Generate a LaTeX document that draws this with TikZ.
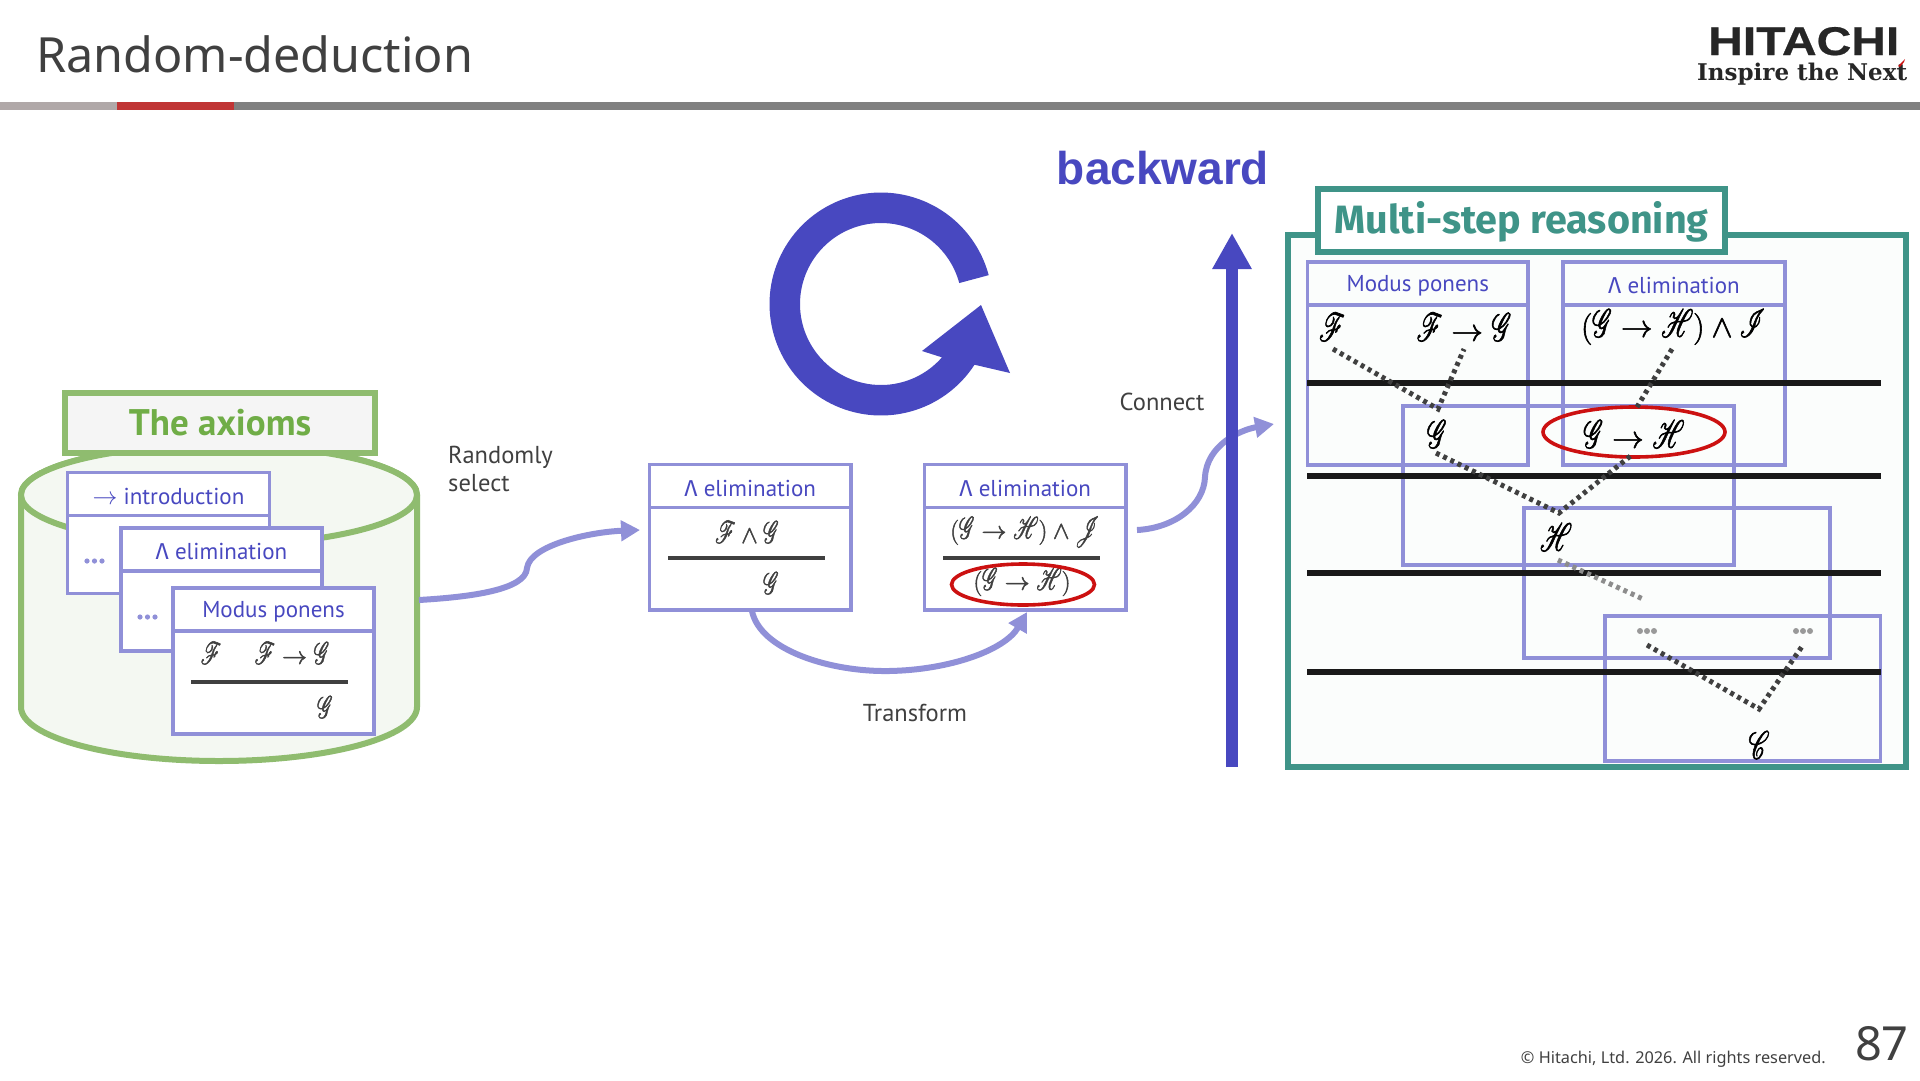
\documentclass[tikz,border=0pt]{standalone}
\usepackage{fontspec}
\usepackage{graphicx}
\usepackage{mathrsfs}
\usetikzlibrary{arrows.meta,shapes.geometric,calc}
\setmainfont{PT Sans}
\newfontfamily\titlefont{Noto Sans}
\newfontfamily\headfont{Liberation Sans}
\newfontfamily\multifont{Fira Sans}
\newfontfamily\hitfont[FakeStretch=1.2,FakeBold=0.6]{Liberation Sans}
\newfontfamily\inspfont[FakeStretch=1.0]{DejaVu Serif}
\definecolor{boxc}{HTML}{9090D8}
\definecolor{deep}{HTML}{4848C0}
\definecolor{grn}{HTML}{8FBC6F}
\definecolor{grntext}{HTML}{70AD47}
\definecolor{teal1}{HTML}{3F9488}
\definecolor{ink}{HTML}{404040}
\definecolor{redc}{HTML}{CC1111}
\definecolor{cylfill}{HTML}{F4F8F2}
\definecolor{panelfill}{HTML}{FBFDFC}
\definecolor{barred}{HTML}{C03535}
\definecolor{barpale}{HTML}{B0A8A8}
\tikzset{
  x=1pt,y=-1pt,
  box/.style={draw=boxc,line width=3.6pt,inner sep=0pt,outer sep=0pt,anchor=north west},
  whitebox/.style={box,fill=white},
  lab/.style={text=deep,font=\fontsize{23}{27}\selectfont,inner sep=0pt},
  say/.style={text=ink,font=\fontsize{24.5}{29}\selectfont,inner sep=0pt},
  mth/.style={text=ink,font=\fontsize{30}{36}\selectfont,inner sep=0pt},
  mths/.style={text=ink,font=\fontsize{26}{32}\selectfont,inner sep=0pt},
  mthk/.style={text=black,font=\fontsize{30}{36}\selectfont,inner sep=0pt},
  flow/.style={draw=boxc,line width=6pt,-{Triangle[length=19pt,width=20pt]}},
  rule1/.style={draw=ink,line width=3.6pt},
  thick1/.style={draw=black!90,line width=6pt},
  dotline/.style={draw=ink,line width=5pt,dash pattern=on 4pt off 4pt},
  dotgrey/.style={draw=black!45,line width=5pt,dash pattern=on 4pt off 4pt},
  redoval/.style={ellipse,draw=redc,line width=3.6pt,inner sep=0pt,outer sep=0pt},
  tag/.style={line width=6pt,inner sep=0pt,outer sep=0pt,anchor=north west},
}
\newcommand{\LamGlyph}{{\multifont Λ}}
\newcommand{\mycard}[7]{%
  \node[whitebox,minimum width=#4pt,minimum height=#5pt] (#1h) at (#2,#3) {};
  \node[lab] at ($(#1h.center)+(0,2)$) {#7};
  \node[whitebox,minimum width=#4pt,minimum height=#6pt] (#1b) at (#1h.south west) {};
}
\newcommand{\openbox}[7]{%
  \node[box,minimum width=#4pt,minimum height=#5pt] (#1h) at (#2,#3) {};
  \node[lab] at ($(#1h.center)+(0,2)$) {#7};
  \node[box,minimum width=#4pt,minimum height=#6pt] (#1b) at (#1h.south west) {};
}
\newcommand{\scr}[1]{\mathord{\scalebox{.8}[1.25]{$\mathscr{#1}$}}}
\newcommand{\sF}{\scr{F}}
\newcommand{\sG}{\scr{G}}
\newcommand{\sH}{\scr{H}}
\newcommand{\heavy}[1]{\special{pdf:literal direct 2 Tr 0.45 w}#1\special{pdf:literal direct 0 Tr 0 w}}
\newcommand{\bigmth}[1]{\scalebox{1.27}{\heavy{#1}}}
\begin{document}
\begin{tikzpicture}
\useasboundingbox (0,0) rectangle (1920,1080);
\fill[white] (0,0) rectangle (1920,1080);
% header
\node[anchor=base west,inner sep=0pt,text=ink,font=\titlefont\fontsize{48.5}{56}\selectfont] (title) at (36,72) {Random-deduction};
\fill[black!50] (0,102) rectangle (1920,110);
\fill[barpale] (0,102) rectangle (117,110);
\fill[barred] (117,102) rectangle (234,110);
\node[anchor=base west,inner sep=0pt,text=black!85,font=\hitfont\bfseries\fontsize{40}{44}\selectfont] (hit) at (1708,55) {HITACHI};
\node[anchor=base west,inner sep=0pt,text=black!85,font=\inspfont\bfseries\fontsize{23}{28}\selectfont] (insp) at (1697,80) {Inspire the Next};
\fill[redc] (1898,66) -- (1905,59) -- (1904,62) -- (1900,67) -- cycle;
% cylinder
\path[fill=cylfill,draw=grn,line width=6pt] (21,495) -- (21,707) arc (180:360:198pt and 54pt) -- (417,495) arc (0:180:198pt and 50pt) -- cycle;
\draw[draw=grn,line width=6pt,fill=cylfill] (219,495) ellipse (198pt and 50pt);
\coordinate (cylout) at (419,600);
\node[tag,draw=grn,fill=black!4,minimum width=310pt,minimum height=60pt] (axiomtag) at (65,393) {};
\node[inner sep=0pt,text=grntext,font=\bfseries\fontsize{37}{44}\selectfont] at (axiomtag.center) {The axioms};
\mycard{cA}{67.5}{472.5}{202}{43}{78}{$\to$ introduction}
\fill[boxc] (87,561) circle (2.6pt) (94.5,561) circle (2.6pt) (102,561) circle (2.6pt);
\mycard{cB}{121}{528}{201}{43}{80}{\LamGlyph\ elimination}
\fill[boxc] (140,617) circle (2.6pt) (147.5,617) circle (2.6pt) (155,617) circle (2.6pt);
\mycard{cC}{173}{588}{201}{43}{103}{Modus ponens}
\node[mths] at (211,653) {\heavy{$\sF$}};
\node[mths] at (292,653) {\heavy{$\sF\to\sG$}};
\draw[rule1] (191,682) -- (348,682);
\node[mths] at (325,707) {\heavy{$\sG$}};
\node[say,anchor=base west,align=left] (rand) at (448,463) {Randomly};
\node[say,anchor=base west] (sel) at (448,491) {select};
% middle
\mycard{mA}{649.5}{464.5}{201.5}{43}{102.5}{\LamGlyph\ elimination}
\mycard{mB}{924.5}{464.5}{201.5}{43}{102.5}{\LamGlyph\ elimination}
\coordinate (arA) at (640,530);
\draw[flow] (cylout) .. controls (470,597) and (526,590) .. (527,568) .. controls (530,545) and (590,532) .. (arA);
\node[mth] at (747,532) {\heavy{$\sF\wedge\sG$}};
\draw[rule1] (668,558) -- (825,558);
\node[mth] at (771,583) {\heavy{$\sG$}};
\node[mth] at (1025,532) {\heavy{$(\sG\to\sH)\wedge\scr{J}$}};
\draw[rule1] (943,558) -- (1100,558);
\node[mth] at (1022,582) {\heavy{$(\sG\to\sH)$}};
\node[redoval,minimum width=143pt,minimum height=41pt] (ovalA) at (1023,584.5) {};
\coordinate (tA) at (752,611);
\coordinate (tB) at (1027,612);
\draw[flow] (tA) .. controls (760,650) and (830,672) .. (889,671) .. controls (950,670) and (1005,650) .. (tB);
\node[say] (trans) at (915,713) {Transform};
\coordinate (cA) at (1137,530);
\coordinate (cB) at (1274,424);
\draw[flow] (cA) .. controls (1175,528) and (1204,505) .. (1205,477) .. controls (1207,445) and (1240,430) .. (cB);
\node[say] (conn) at (1162,402) {Connect};
% backward arrow
\coordinate (backlow) at (1232,767);
\coordinate (backtop) at (1232,233);
\draw[deep,line width=12pt,-{Triangle[length=36pt,width=37pt]}] (backlow) -- (backtop);
\node[text=deep,inner sep=0pt,font=\headfont\bfseries\fontsize{46}{52}\selectfont] (back) at (1163,168) {backward};
% cycle
\fill[deep] plot[domain=15:327,samples=120] ({881+111.5*cos(\x)},{304-111.5*sin(\x)})
  -- (1010,373) -- (981,305) -- (922,351) -- (944,358)
  -- plot[domain=320:15,samples=120] ({881+81*cos(\x)},{304-81*sin(\x)}) -- cycle;
% right panel
\node[tag,draw=teal1,fill=panelfill,minimum width=618pt,minimum height=532pt] (panel) at (1287.5,235) {};
\node[tag,draw=teal1,fill=white,minimum width=407pt,minimum height=63pt] (paneltag) at (1318,189) {};
\node[inner sep=0pt,text=teal1,font=\multifont\bfseries\fontsize{39.5}{46}\selectfont] at ($(paneltag.center)+(0,1)$) {Multi-step reasoning};
\openbox{rA}{1307.5}{262}{220.5}{43}{160}{Modus ponens}
\openbox{rB}{1563}{262}{222}{43}{160}{\LamGlyph\ elimination}
\node[box,minimum width=331pt,minimum height=159pt] (rG) at (1403,406) {};
\node[box,minimum width=306pt,minimum height=150pt] (rH) at (1524,508) {};
\node[box,minimum width=275.5pt,minimum height=145pt] (rC) at (1605,616) {};
\foreach \yy in {383,476,573,672} \draw[thick1] (1307,\yy) -- (1881,\yy);
\node[mthk] (nF) at (1332,327) {\bigmth{$\sF$}};
\node[mthk] (nFG) at (1464,327) {\bigmth{$\sF\to\sG$}};
\node[mthk] (nGHI) at (1673,327) {\bigmth{$(\sG\to\sH)\wedge\scr{I}$}};
\node[mthk] (nG) at (1437,434) {\bigmth{$\sG$}};
\node[mthk] (nGH) at (1634,434) {\bigmth{$\sG\to\sH$}};
\node[redoval,minimum width=182pt,minimum height=50pt] (ovalB) at (1634,432) {};
\node[mthk] (nH) at (1556,537) {\bigmth{$\sH$}};
\node[mthk] (nC) at (1759,745) {\bigmth{$\scr{C}$}};
\fill[black!40] (1640,631) circle (3pt) (1647,631) circle (3pt) (1654,631) circle (3pt);
\fill[black!40] (1796,631) circle (3pt) (1803,631) circle (3pt) (1810,631) circle (3pt);
\coordinate (d1) at (1333,349); \coordinate (d2) at (1464,349); \coordinate (j1) at (1438,409);
\coordinate (d3) at (1672,349); \coordinate (j2) at (1637,407);
\coordinate (d4) at (1436,453); \coordinate (d5) at (1633,454); \coordinate (j3) at (1559,513);
\coordinate (d6) at (1558,560); \coordinate (d7) at (1643,599);
\coordinate (d8) at (1647,645); \coordinate (d9) at (1803,645); \coordinate (j4) at (1759,709);
\draw[dotline] (d1) -- (j1) -- (d2);
\draw[dotline] (d3) -- (j2);
\draw[dotline] (d4) -- (j3) -- (d5);
\draw[dotgrey] (d6) -- (d7);
\draw[dotline] (d8) -- (j4) -- (d9);
% footer
\node[anchor=base east,inner sep=0pt,text=ink,font=\titlefont\fontsize{16.3}{20}\selectfont] (copy) at (1826,1063) {© Hitachi, Ltd. 2026. All rights reserved.};
\node[anchor=base east,inner sep=0pt,text=ink,font=\titlefont\fontsize{47}{54}\selectfont] (pg) at (1909,1060) {87};
\end{tikzpicture}
\end{document}
